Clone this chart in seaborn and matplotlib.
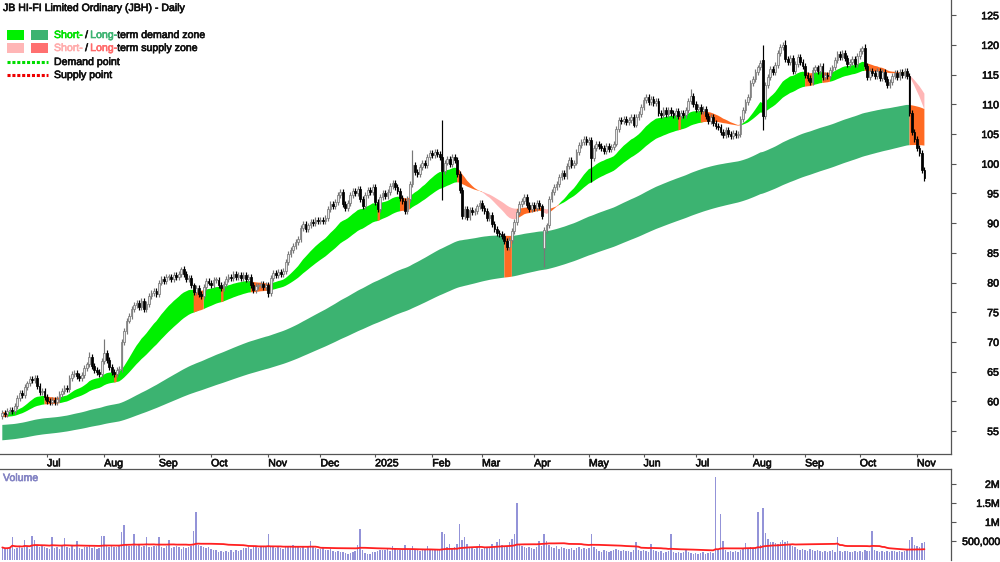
import numpy as np
import pandas as pd
import matplotlib
matplotlib.use("Agg")
import matplotlib.pyplot as plt
import matplotlib.patheffects as pe
import seaborn as sns
from matplotlib.patches import Rectangle
from matplotlib.lines import Line2D
from matplotlib.text import Annotation

sns.set_theme(style="white")
plt.rcParams["font.family"] = ["Liberation Sans", "DejaVu Sans"]

# ---------------- data ----------------
START_DATE = "2024-06-05"
OPEN_FIRST = 57.6

close = [
    58.0, 57.8, 58.3, 58.6, 58.4, 59.2, 60.5, 61.4, 61.0, 62.4,
    63.0, 63.8, 63.6, 63.9, 62.6, 61.5, 61.8, 60.8, 60.0, 59.8,
    60.3, 59.9, 60.4, 61.2, 61.8, 62.3, 62.0, 64.0, 64.6, 64.8,
    64.2, 63.9, 64.5, 65.6, 66.2, 67.5, 66.0, 65.3, 65.0, 64.6,
    66.8, 68.2, 67.0, 65.8, 65.0, 64.6, 65.2, 65.4, 70.0, 71.8,
    73.6, 74.4, 75.5, 76.2, 76.5, 75.8, 76.9, 75.6, 76.4, 77.8,
    78.2, 78.6, 78.0, 80.0, 80.6, 80.2, 80.9, 81.0, 80.6, 81.3,
    81.0, 81.4, 82.2, 81.5, 80.6, 80.8, 79.5, 78.4, 79.0, 78.0,
    77.8, 79.2, 80.2, 80.0, 79.6, 80.4, 80.5, 79.6, 79.0, 79.8,
    80.6, 81.0, 80.8, 81.4, 80.9, 81.2, 80.7, 81.3, 80.6, 80.9,
    79.6, 78.8, 79.4, 79.5, 79.8, 79.2, 79.6, 78.2, 80.8, 81.6,
    81.2, 81.8, 81.4, 82.0, 83.5, 84.8, 85.4, 86.2, 86.8, 87.4,
    89.2, 89.8, 89.0, 89.6, 90.2, 90.0, 90.5, 90.3, 90.6, 90.4,
    90.8, 92.4, 93.2, 92.8, 93.5, 94.8, 95.2, 93.2, 92.6, 93.4,
    94.8, 95.4, 95.0, 95.8, 94.0, 92.8, 94.8, 95.6, 95.2, 96.0,
    93.6, 92.4, 94.4, 95.0, 94.6, 95.2, 96.2, 96.8, 96.0, 95.4,
    94.2, 93.8, 92.0, 94.0, 96.6, 99.8, 98.6, 98.2, 99.4, 100.2,
    99.8, 101.2, 101.8, 101.4, 101.9, 101.6, 101.2, 98.8, 100.2, 100.8,
    100.0, 101.2, 100.6, 98.2, 95.6, 91.2, 92.4, 91.0, 92.2, 91.8,
    92.0, 92.8, 93.4, 92.6, 92.0, 90.8, 91.4, 89.8, 89.0, 88.4,
    88.2, 87.9, 87.0, 86.0, 87.2, 88.6, 90.2, 91.8, 93.2, 93.8,
    94.4, 93.0, 92.4, 93.0, 92.6, 93.4, 92.8, 91.2, 88.9, 89.6,
    94.0, 95.2, 96.0, 96.6, 97.8, 98.4, 98.0, 99.6, 100.6, 99.8,
    100.2, 102.0, 103.2, 103.6, 104.2, 103.6, 104.0, 101.0, 102.6, 103.4,
    103.0, 102.6, 102.2, 103.0, 102.4, 102.8, 103.4, 105.8, 107.4, 107.2,
    107.6, 107.0, 107.4, 107.8, 106.6, 107.8, 108.4, 109.6, 110.8, 111.2,
    110.4, 110.9, 110.2, 110.6, 108.6, 108.2, 109.0, 108.4, 109.0, 108.6,
    108.2, 108.8, 108.0, 108.6, 108.2, 109.0, 110.6, 111.4, 110.0, 109.2,
    109.6, 108.8, 109.2, 108.0, 107.2, 107.8, 106.8, 106.4, 106.2, 105.4,
    104.8, 105.6, 105.0, 104.6, 105.2, 104.8, 105.0, 107.6, 109.0, 110.4,
    111.2, 113.6, 114.2, 115.4, 116.2, 117.0, 108.0, 113.2, 114.6, 116.0,
    115.4, 116.6, 118.6, 119.6, 120.0, 117.6, 117.2, 117.8, 115.6, 116.8,
    118.0, 117.2, 116.4, 115.0, 114.4, 113.8, 115.8, 116.2, 115.6, 116.4,
    114.6, 115.0, 114.8, 115.8, 116.2, 117.4, 118.4, 118.0, 118.6, 117.8,
    116.8, 117.2, 117.6, 116.8, 118.2, 119.0, 119.4, 116.4, 114.6, 115.6,
    115.2, 114.8, 115.6, 114.4, 115.4, 114.2, 113.2, 113.8, 114.8, 115.2,
    114.6, 115.4, 115.0, 115.6, 114.8, 108.6, 105.4, 104.2, 102.6, 101.8,
    99.0, 97.6,
]

# volume in thousands of shares
volume_k = [
    330, 290, 310, 350, 600, 300, 320, 370, 310, 520,
    340, 300, 630, 520, 400, 330, 380, 350, 320, 290,
    600, 310, 340, 300, 370, 580, 330, 310, 360, 280,
    500, 320, 300, 350, 330, 370, 310, 340, 290, 320,
    630, 620, 370, 340, 400, 350, 330, 380, 740, 920,
    420, 370, 380, 680, 360, 400, 340, 370, 600, 350,
    330, 380, 360, 600, 340, 320, 370, 520, 310, 350,
    370, 330, 300, 350, 320, 340, 380, 760, 1260, 400,
    360, 340, 310, 330, 300, 270, 250, 220, 240, 210,
    230, 200, 270, 220, 250, 230, 270, 320, 310, 340,
    300, 360, 330, 310, 350, 380, 340, 680, 370, 330,
    310, 340, 320, 300, 370, 350, 330, 390, 340, 360,
    310, 330, 300, 350, 500, 340, 320, 280, 300, 310,
    270, 250, 280, 230, 210, 240, 200, 220, 180, 160,
    190, 210, 230, 390, 810, 270, 190, 170, 160, 200,
    220, 240, 250, 270, 260, 280, 240, 380, 290, 260,
    250, 270, 390, 280, 260, 370, 270, 250, 240, 260,
    270, 380, 280, 260, 290, 270, 300, 740, 690, 330,
    420, 310, 330, 410, 950, 530, 600, 420, 350, 310,
    290, 330, 410, 300, 320, 340, 310, 410, 370, 480,
    550, 400, 350, 370, 460, 560, 680, 1500, 420, 370,
    330, 310, 350, 320, 300, 340, 510, 370, 680, 500,
    400, 350, 320, 370, 290, 330, 310, 280, 300, 320,
    270, 310, 330, 300, 320, 290, 310, 680, 340, 290,
    230, 220, 260, 240, 210, 230, 250, 290, 270, 240,
    260, 230, 240, 220, 250, 480, 270, 230, 260, 240,
    220, 420, 250, 230, 210, 240, 190, 220, 230, 680,
    210, 180, 200, 190, 220, 300, 200, 180, 170, 190,
    160, 180, 200, 170, 190, 220, 180, 2180, 290, 1200,
    500, 250, 220, 230, 200, 240, 220, 260, 290, 450,
    290, 330, 310, 340, 1250, 400, 1370, 720, 550, 470,
    480, 450, 420, 470, 520, 480, 490, 420, 370, 350,
    290, 270, 300, 260, 240, 280, 250, 230, 260, 240,
    220, 240, 210, 230, 250, 220, 610, 240, 210, 230,
    240, 220, 200, 230, 210, 240, 220, 250, 230, 240,
    770, 260, 230, 220, 240, 210, 230, 220, 240, 230,
    210, 230, 220, 240, 250, 530, 600, 400, 380, 340,
    450, 470,
]

open_gaps = {218: 85.8, 306: 117.5, 365: 114.8}
high_marks = {35: 68.3, 41: 70.5, 72: 82.6, 165: 102.3, 177: 107.3, 277: 112.5,
              306: 120.0, 315: 120.8, 346: 119.8, 347: 120.2}
low_marks = {107: 77.5, 177: 93.9, 218: 82.6, 237: 97.0, 306: 105.7}
WICK = 0.5

# zone settings (EMA spans and starting values read from the left edge)
SHORT_SPANS = (22, 45)
SHORT_SEEDS = (58.2, 57.3)
LONG_SPANS = (140, 240)
LONG_SEEDS = (56.0, 53.4)

y_ticks = [55, 60, 65, 70, 75, 80, 85, 90, 95, 100, 105, 110, 115, 120, 125]
vol_ticks = [500000, 1000000, 1500000, 2000000]
vol_tick_labels = ["500,000", "1M", "1.5M", "2M"]

# ---------------- preparation ----------------
n = min(len(close), len(volume_k))
idx = np.arange(n)
c = np.array(close[:n], dtype=float)
vol = np.array(volume_k[:n], dtype=float) * 1000
dates = pd.bdate_range(START_DATE, periods=n)

o = np.empty(n)
o[0] = OPEN_FIRST
o[1:] = c[:-1]
for k, v in open_gaps.items():
    o[k] = v
bhi = np.maximum(o, c)
blo = np.minimum(o, c)
hi = bhi + WICK
lo = blo - WICK
for k, v in high_marks.items():
    hi[k] = v
for k, v in low_marks.items():
    lo[k] = v
up = c >= o


def ema(values, span, seed):
    a = 2.0 / (span + 1.0)
    e = seed
    out = []
    for v in values:
        e = e + a * (v - e)
        out.append(e)
    return np.array(out)


sf = ema(c, SHORT_SPANS[0], SHORT_SEEDS[0])
ss = ema(c, SHORT_SPANS[1], SHORT_SEEDS[1])
lf = ema(c, LONG_SPANS[0], LONG_SEEDS[0])
ls = ema(c, LONG_SPANS[1], LONG_SEEDS[1])

s_up = sf >= ss
s_state = np.where(s_up, np.where(c >= sf, "g", "o"), np.where(c <= sf, "p", "o"))
l_state = np.where(c >= np.maximum(lf, ls), "g", "o")

LIME = "#00f000"
DGREEN = "#3cb371"
PINK = "#ffb6b6"
LRED = "#ff7070"
ORANGE = "#ff6a22"
FS = 7.6
STROKE = 0.45


def heavy(t, col):
    t.set_path_effects([pe.withStroke(linewidth=STROKE, foreground=col)])
    return t


# ---------------- figure ----------------
fig = plt.figure(figsize=(10, 5.62), dpi=100)
ax = fig.add_axes([0, (562 - 454) / 562, 0.951, 454 / 562])
axv = fig.add_axes([0, 2 / 562, 0.951, (560 - 469) / 562])

XL = (-0.93, 381.7)


def fill_states(axis, lower, upper, states, cmap, z):
    for key, col in cmap:
        m = states == key
        if not m.any():
            continue
        ext = m.copy()
        ext[1:] |= m[:-1]
        axis.fill_between(idx, lower, upper, where=ext, color=col,
                          linewidth=0, zorder=z)


fill_states(ax, np.minimum(lf, ls), np.maximum(lf, ls), l_state,
            [("g", DGREEN), ("o", ORANGE)], 1)
fill_states(ax, np.minimum(sf, ss), np.maximum(sf, ss), s_state,
            [("g", LIME), ("p", PINK), ("o", ORANGE)], 2)

# candles
wick_cols = np.where(up, "#777777", "#000000")
ax.vlines(idx, lo, hi, colors=wick_cols, linewidth=0.85, zorder=3)
h = np.maximum(bhi - blo, 0.15)
ax.bar(idx[up], h[up], bottom=blo[up], width=0.7, color="#e8e8e8",
       edgecolor="#777777", linewidth=0.55, zorder=4)
ax.bar(idx[~up], h[~up], bottom=blo[~up], width=0.7, color="#000000",
       edgecolor="#000000", linewidth=0.55, zorder=4)

ax.set_xlim(*XL)
ax.set_ylim(51.13, 127.56)

# month ticks
m_pos, m_lab = [], []
for i in range(1, n):
    if dates[i].month != dates[i - 1].month:
        m_pos.append(i)
        m_lab.append(str(dates[i].year) if dates[i].month == 1 else dates[i].strftime("%b"))
ax.set_xticks(m_pos)
ax.set_xticklabels(m_lab)
ax.tick_params(axis="x", direction="out", length=2.5, width=0.8, color="#555555",
               pad=0.6, labelsize=FS, labelcolor="#111111", bottom=True)
for lab in ax.get_xticklabels():
    lab.set_horizontalalignment("left")
    heavy(lab, "#111111")

ax.yaxis.tick_right()
ax.set_yticks(y_ticks)
ax.set_yticklabels([str(v) for v in y_ticks])
ax.tick_params(axis="y", direction="out", length=3.5, width=0.8, color="#555555",
               pad=31, labelsize=FS, labelcolor="#111111", right=True, left=False)
for lab in ax.get_yticklabels():
    lab.set_horizontalalignment("right")
    heavy(lab, "#111111")

for sp in ["top", "left"]:
    ax.spines[sp].set_visible(False)
for sp in ["right", "bottom"]:
    ax.spines[sp].set_color("#555555")
    ax.spines[sp].set_linewidth(0.9)
ax.grid(False)

# volume panel
axv.bar(idx, vol, width=0.6, color="#9393d8", edgecolor="none", zorder=2)
vol_ma = pd.Series(vol).rolling(50, min_periods=1).mean().to_numpy()
sns.lineplot(x=idx, y=vol_ma, ax=axv, color="#ff2020", linewidth=1.3, zorder=3)
axv.set_xlim(*XL)
axv.set_ylim(0, 2.39e6)
axv.set_xticks([])
axv.yaxis.tick_right()
axv.set_yticks(vol_ticks)
axv.set_yticklabels(vol_tick_labels)
axv.tick_params(axis="y", direction="out", length=3.5, width=0.8, color="#555555",
                pad=31.5, labelsize=FS, labelcolor="#111111", right=True, left=False)
for lab in axv.get_yticklabels():
    lab.set_horizontalalignment("right")
    heavy(lab, "#111111")
for sp in ["bottom", "left"]:
    axv.spines[sp].set_visible(False)
for sp in ["right", "top"]:
    axv.spines[sp].set_color("#555555")
    axv.spines[sp].set_linewidth(0.9)
axv.set_xlabel("")
axv.set_ylabel("")
axv.grid(False)

# ---------------- title & legend ----------------
def fx(px):
    return px / 1000.0


def fy(py):
    return 1 - py / 562.0


def ftext(px, py, s, col):
    t = fig.text(fx(px), fy(py), s, fontsize=FS, color=col, ha="left", va="center")
    return heavy(t, col)


ftext(3, 8, "JB HI-FI Limited Ordinary (JBH) - Daily", "#111111")
ftext(3, 478, "Volume", "#8484c4")

for (px, py, col) in [(7, 30, LIME), (31, 30, DGREEN), (7, 43, PINK), (31, 43, LRED)]:
    fig.add_artist(Rectangle((fx(px), fy(py + 10)), 17 / 1000, 10 / 562,
                             transform=fig.transFigure, facecolor=col, edgecolor="none"))

fig.add_artist(Line2D([fx(7), fx(48)], [fy(62), fy(62)], transform=fig.transFigure,
                      color="#00dd00", linewidth=2.2, linestyle=(0, (1, 0.6))))
fig.add_artist(Line2D([fx(7), fx(48)], [fy(75), fy(75)], transform=fig.transFigure,
                      color="#ee0000", linewidth=2.2, linestyle=(0, (1, 0.6))))


def chain(px, py, parts):
    t = ftext(px, py, parts[0][0], parts[0][1])
    for s, col, gap in parts[1:]:
        a = Annotation(s, xy=(1, 0), xycoords=t, xytext=(gap, 0),
                       textcoords="offset points", ha="left", va="bottom",
                       color=col, fontsize=FS, annotation_clip=False)
        heavy(a, col)
        fig.add_artist(a)
        t = a


chain(54, 35, [("Short-", "#00e000"), ("/", "#111111", 1.6), ("Long-", DGREEN, 1.6),
               ("term demand zone", "#111111", 0)])
chain(54, 48, [("Short-", "#ffacac"), ("/", "#111111", 1.6), ("Long-", "#ff6a6a", 1.6),
               ("term supply zone", "#111111", 0)])
ftext(54, 62, "Demand point", "#111111")
ftext(54, 75, "Supply point", "#111111")

fig.savefig("out.png", dpi=100)
